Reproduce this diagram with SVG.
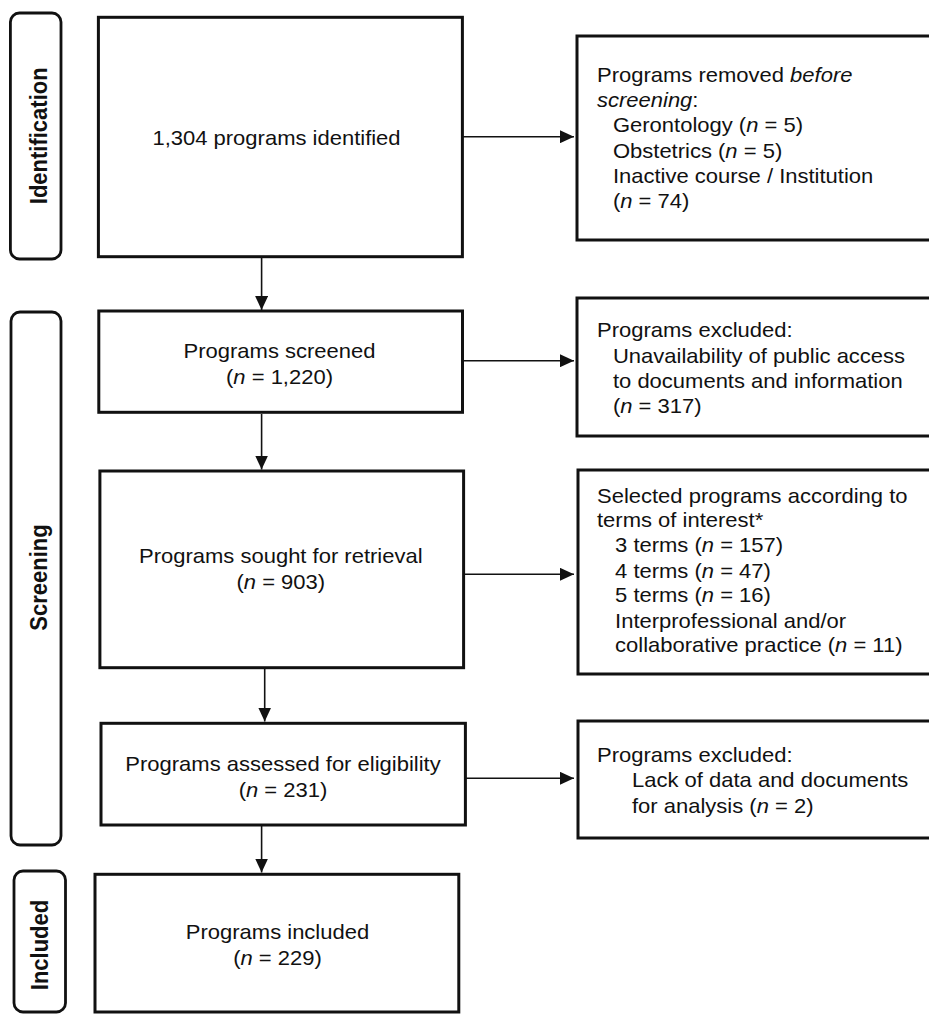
<svg xmlns="http://www.w3.org/2000/svg" width="929" height="1014" viewBox="0 0 929 1014">
<style>
.box{fill:#fff;stroke:#111;stroke-width:3}
.side{fill:#fff;stroke:#111;stroke-width:2.8}
.conn{fill:none;stroke:#111;stroke-width:1.6}
text{font-family:"Liberation Sans",Arial,sans-serif;font-size:20px;fill:#111}
.c{text-anchor:middle}
.lbl{font-weight:bold;font-size:22px;text-anchor:middle}
.i{font-style:italic}
</style>
<defs>
<marker id="ah" viewBox="0 0 14 13" refX="14" refY="6.5" markerWidth="14" markerHeight="13" markerUnits="userSpaceOnUse" orient="auto">
<path d="M0,0 L14,6.5 L0,13 z" fill="#111"/>
</marker>
</defs>
<rect width="929" height="1014" fill="#fff"/>

<g id="stage-identification">
<rect class="side" x="10.4" y="13" width="50.6" height="246" rx="9"/>
<g transform="translate(47.4 135.8) scale(1.1 1) rotate(-90)"><text class="lbl" x="0" y="0">Identification</text></g>
</g>
<g id="stage-screening">
<rect class="side" x="11" y="312" width="50" height="533" rx="9"/>
<g transform="translate(47.4 577.5) scale(1.1 1) rotate(-90)"><text class="lbl" x="0" y="0">Screening</text></g>
</g>
<g id="stage-included">
<rect class="side" x="14" y="871" width="51.5" height="141" rx="9"/>
<g transform="translate(48 945) scale(1.1 1) rotate(-90)"><text class="lbl" x="0" y="0">Included</text></g>
</g>

<g id="n-identified">
<rect class="box" x="98.4" y="17.3" width="364" height="239.4"/>
<g transform="translate(276.5 0) scale(1.1 1)"><text class="c" x="0" y="145">1,304 programs identified</text></g>
</g>
<g id="n-screened">
<rect class="box" x="98.8" y="311" width="363.7" height="101.3"/>
<g transform="translate(279.5 0) scale(1.1 1)"><text class="c" x="0" y="358">Programs screened</text><text class="c" x="0" y="384">(<tspan class="i">n</tspan> = 1,220)</text></g>
</g>
<g id="n-sought">
<rect class="box" x="99.9" y="471" width="363.7" height="196.7"/>
<g transform="translate(280.8 0) scale(1.1 1)"><text class="c" x="0" y="563.3">Programs sought for retrieval</text><text class="c" x="0" y="589">(<tspan class="i">n</tspan> = 903)</text></g>
</g>
<g id="n-assessed">
<rect class="box" x="101" y="723.3" width="364.4" height="101.7"/>
<g transform="translate(283 0) scale(1.1 1)"><text class="c" x="0" y="770.7">Programs assessed for eligibility</text><text class="c" x="0" y="796.7">(<tspan class="i">n</tspan> = 231)</text></g>
</g>
<g id="n-included">
<rect class="box" x="95" y="874.3" width="363.8" height="137.7"/>
<g transform="translate(277.5 0) scale(1.1 1)"><text class="c" x="0" y="939.3">Programs included</text><text class="c" x="0" y="965">(<tspan class="i">n</tspan> = 229)</text></g>
</g>

<g id="n-removed">
<rect class="box" x="577" y="36" width="360" height="204"/>
<g transform="translate(597 0) scale(1.1 1)">
<text x="0" y="82">Programs removed <tspan class="i">before</tspan></text>
<text x="0" y="107.2"><tspan class="i">screening</tspan>:</text>
<text x="14.5" y="132.4">Gerontology (<tspan class="i">n</tspan> = 5)</text>
<text x="14.5" y="157.6">Obstetrics (<tspan class="i">n</tspan> = 5)</text>
<text x="14.5" y="182.8">Inactive course / Institution</text>
<text x="14.5" y="208">(<tspan class="i">n</tspan> = 74)</text>
</g>
</g>
<g id="n-excluded1">
<rect class="box" x="577" y="298" width="360" height="138"/>
<g transform="translate(597 0) scale(1.1 1)">
<text x="0" y="337">Programs excluded:</text>
<text x="14.5" y="363">Unavailability of public access</text>
<text x="14.5" y="388">to documents and information</text>
<text x="14.5" y="413">(<tspan class="i">n</tspan> = 317)</text>
</g>
</g>
<g id="n-selected">
<rect class="box" x="578" y="470" width="360" height="204"/>
<g transform="translate(597 0) scale(1.1 1)">
<text x="0" y="503">Selected programs according to</text>
<text x="0" y="527">terms of interest*</text>
<text x="16.4" y="552">3 terms (<tspan class="i">n</tspan> = 157)</text>
<text x="16.4" y="578">4 terms (<tspan class="i">n</tspan> = 47)</text>
<text x="16.4" y="602">5 terms (<tspan class="i">n</tspan> = 16)</text>
<text x="16.4" y="628">Interprofessional and/or</text>
<text x="16.4" y="652">collaborative practice (<tspan class="i">n</tspan> = 11)</text>
</g>
</g>
<g id="n-excluded2">
<rect class="box" x="578" y="721" width="360" height="117"/>
<g transform="translate(597 0) scale(1.1 1)">
<text x="0" y="762">Programs excluded:</text>
<text x="31.8" y="787">Lack of data and documents</text>
<text x="31.8" y="813">for analysis (<tspan class="i">n</tspan> = 2)</text>
</g>
</g>

<g id="connectors">
<line class="conn" x1="462.5" y1="136.7" x2="574" y2="136.7" marker-end="url(#ah)"/>
<line class="conn" x1="261.6" y1="257" x2="261.6" y2="310" marker-end="url(#ah)"/>
<line class="conn" x1="462.5" y1="360.7" x2="574" y2="360.7" marker-end="url(#ah)"/>
<line class="conn" x1="261.6" y1="414" x2="261.6" y2="469.5" marker-end="url(#ah)"/>
<line class="conn" x1="463.6" y1="574.3" x2="574" y2="574.3" marker-end="url(#ah)"/>
<line class="conn" x1="264.7" y1="668" x2="264.7" y2="721.5" marker-end="url(#ah)"/>
<line class="conn" x1="465.4" y1="778.3" x2="574" y2="778.3" marker-end="url(#ah)"/>
<line class="conn" x1="261.6" y1="825" x2="261.6" y2="872.5" marker-end="url(#ah)"/>
</g>
</svg>
